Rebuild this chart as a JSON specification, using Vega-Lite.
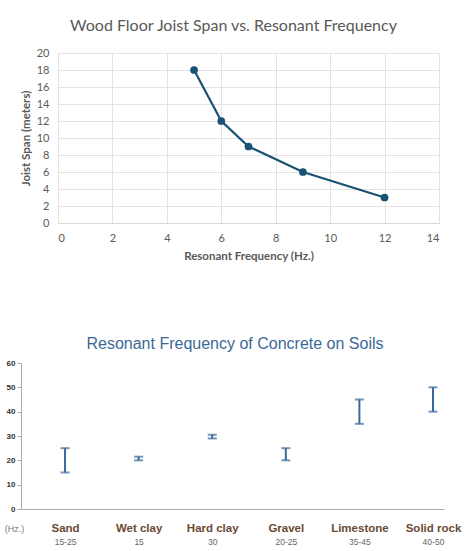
{
  "$schema": "https://vega.github.io/schema/vega-lite/v6.json",
  "padding": {"left": 1, "top": 18, "right": 0, "bottom": 0},
  "background": "white",
  "spacing": 74,
  "config": {"view": {"stroke": null}},
  "vconcat": [
    {
      "width": 381,
      "height": 170,
      "title": {
        "text": "Wood Floor Joist Span vs. Resonant Frequency",
        "font": "Lato",
        "fontSize": 16,
        "fontWeight": "normal",
        "color": "#595959",
        "anchor": "middle",
        "frame": "bounds",
        "dx": 4,
        "offset": 13
      },
      "data": {
        "values": [
          {"freq": 5, "span": 18},
          {"freq": 6, "span": 12},
          {"freq": 7, "span": 9},
          {"freq": 9, "span": 6},
          {"freq": 12, "span": 3}
        ]
      },
      "mark": {
        "type": "line",
        "color": "#1a5276",
        "strokeWidth": 2.2,
        "point": {"filled": true, "size": 60, "color": "#1a5276"}
      },
      "encoding": {
        "x": {
          "field": "freq",
          "type": "quantitative",
          "scale": {"domain": [0, 14], "nice": false},
          "axis": {
            "values": [0, 2, 4, 6, 8, 10, 12, 14],
            "title": "Resonant Frequency (Hz.)",
            "titleFont": "Lato",
            "titleFontSize": 11.5,
            "titleFontWeight": "bold",
            "titleColor": "#595959",
            "titlePadding": 7,
            "labelFont": "Lato",
            "labelFontSize": 11,
            "labelColor": "#595959",
            "labelPadding": 9,
            "ticks": false,
            "domainColor": "#d9d9d9",
            "gridColor": "#e3e3e3"
          }
        },
        "y": {
          "field": "span",
          "type": "quantitative",
          "scale": {"domain": [0, 20], "nice": false},
          "axis": {
            "values": [0, 2, 4, 6, 8, 10, 12, 14, 16, 18, 20],
            "labelOverlap": false,
            "title": "Joist Span (meters)",
            "titleFont": "Lato",
            "titleFontSize": 11.5,
            "titleFontWeight": "bold",
            "titleColor": "#595959",
            "titleAngle": 270,
            "titleAlign": "center",
            "titleBaseline": "middle",
            "titleX": -32,
            "titleY": 85,
            "labelFont": "Lato",
            "labelFontSize": 11,
            "labelColor": "#595959",
            "labelPadding": 9,
            "ticks": false,
            "domain": false,
            "gridColor": "#e3e3e3"
          }
        }
      }
    },
    {
      "width": 386,
      "height": 146,
      "title": {
        "text": "Resonant Frequency of Concrete on Soils",
        "font": "Liberation Sans",
        "fontSize": 16,
        "fontWeight": "normal",
        "color": "#3b6998",
        "anchor": "middle",
        "frame": "bounds",
        "dx": -6,
        "offset": 7
      },
      "data": {
        "values": [
          {"soil": "Sand", "range": "15-25", "low": 15, "high": 25},
          {"soil": "Wet clay", "range": "15", "low": 20, "high": 21.5},
          {"soil": "Hard clay", "range": "30", "low": 29, "high": 30.5},
          {"soil": "Gravel", "range": "20-25", "low": 20, "high": 25},
          {"soil": "Limestone", "range": "35-45", "low": 35, "high": 45},
          {"soil": "Solid rock", "range": "40-50", "low": 40, "high": 50}
        ]
      },
      "encoding": {
        "y": {
          "field": "low",
          "type": "quantitative",
          "scale": {"domain": [0, 60], "nice": false},
          "axis": {
            "values": [0, 10, 20, 30, 40, 50, 60],
            "labelOverlap": false,
            "offset": 37,
            "minExtent": 20,
            "title": null,
            "grid": false,
            "labelFont": "Liberation Sans",
            "labelFontSize": 8,
            "labelFontWeight": "bold",
            "labelColor": "#333333",
            "labelPadding": 2,
            "tickSize": 4,
            "tickColor": "#aaaaaa",
            "domainColor": "#aaaaaa"
          }
        }
      },
      "layer": [
        {
          "mark": {
            "type": "errorbar",
            "color": "#3b6a9a",
            "thickness": 2,
            "ticks": {"size": 9}
          },
          "encoding": {
            "x": {
              "field": "soil",
              "type": "nominal",
              "sort": null,
              "scale": {"type": "point", "range": [-37, 386], "padding": 0.374, "align": 0.8},
              "axis": {
                "orient": "bottom",
                "labelAngle": 0,
                "labelFont": "Liberation Sans",
                "labelFontSize": 11.5,
                "labelFontWeight": "bold",
                "labelColor": "#6b4a33",
                "labelPadding": 13,
                "ticks": false,
                "domainColor": "#aaaaaa",
                "title": "(Hz.)",
                "titleFont": "Liberation Sans",
                "titleFontSize": 9,
                "titleFontWeight": "normal",
                "titleColor": "#777777",
                "titleAngle": 0,
                "titleAlign": "center",
                "titleBaseline": "middle",
                "titleX": -44,
                "titleY": 19
              }
            },
            "y2": {"field": "high"}
          }
        },
        {
          "mark": {"type": "tick", "opacity": 0},
          "encoding": {
            "x": {
              "field": "range",
              "type": "nominal",
              "sort": null,
              "scale": {"type": "point", "range": [-37, 386], "padding": 0.374, "align": 0.8},
              "axis": {
                "orient": "bottom",
                "labelAngle": 0,
                "labelFont": "Liberation Sans",
                "labelFontSize": 8.5,
                "labelColor": "#666666",
                "labelPadding": 28,
                "ticks": false,
                "domain": false,
                "title": null
              }
            }
          }
        }
      ],
      "resolve": {"scale": {"x": "independent"}, "axis": {"x": "independent"}}
    }
  ]
}
